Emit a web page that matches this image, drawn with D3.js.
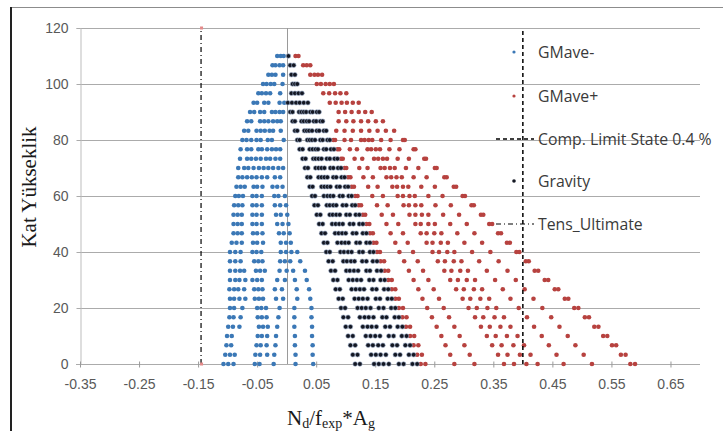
<!DOCTYPE html>
<html>
<head>
<meta charset="utf-8">
<script src="https://cdn.jsdelivr.net/npm/d3@7"></script>
<style>
  body { margin: 0; background: #fff; }
  svg { display: block; }
</style>
</head>
<body>
<script>
const W = 723, H = 431;

// storey heights (m), one row of points per level
const heights = [0, 3.3, 6.7, 10, 13.3, 16.7, 20, 23.3, 26.7, 30, 33.3, 36.7, 40, 43.3, 46.7, 50, 53.3,
  56.7, 60, 63.3, 66.7, 70, 73.3, 76.7, 80, 83.3, 86.7, 90, 93.3, 96.7, 100, 103.3, 106.7, 110];

// GMave-  (row i belongs to heights[i])
const gmMinus = [
  [-0.107,-0.099,-0.090,-0.054,-0.046,-0.022,0.015,0.045],
  [-0.104,-0.096,-0.088,-0.053,-0.045,-0.033,-0.021,0.015,0.044],
  [-0.102,-0.094,-0.051,-0.044,-0.034,-0.019,0.014,0.044],
  [-0.101,-0.093,-0.049,-0.042,-0.033,-0.018,0.014,0.043],
  [-0.099,-0.091,-0.080,-0.047,-0.040,-0.032,-0.016,0.013,0.043],
  [-0.097,-0.090,-0.078,-0.049,-0.042,-0.034,-0.014,0.013,0.042],
  [-0.096,-0.089,-0.075,-0.050,-0.043,-0.035,-0.012,0.013,0.042],
  [-0.096,-0.089,-0.080,-0.070,-0.054,-0.047,-0.040,-0.018,-0.006,0.018,0.040],
  [-0.097,-0.089,-0.082,-0.072,-0.055,-0.048,-0.041,-0.020,-0.008,0.017,0.038],
  [-0.096,-0.087,-0.080,-0.070,-0.058,-0.050,-0.042,-0.016,-0.003,0.014,0.034],
  [-0.096,-0.087,-0.079,-0.072,-0.052,-0.045,-0.037,-0.012,0.000,0.011,0.031],
  [-0.096,-0.087,-0.078,-0.055,-0.048,-0.041,-0.011,-0.003,0.006,0.023],
  [-0.096,-0.087,-0.078,-0.058,-0.051,-0.043,-0.010,-0.001,0.008,0.018],
  [-0.093,-0.085,-0.076,-0.057,-0.050,-0.040,-0.010,-0.001,0.007],
  [-0.090,-0.083,-0.076,-0.057,-0.050,-0.041,-0.013,-0.005,0.005],
  [-0.090,-0.083,-0.076,-0.058,-0.051,-0.042,-0.016,-0.007,0.003],
  [-0.090,-0.083,-0.076,-0.058,-0.051,-0.042,-0.018,-0.010,0.001],
  [-0.089,-0.082,-0.075,-0.058,-0.051,-0.042,-0.020,-0.011,-0.001],
  [-0.087,-0.081,-0.074,-0.058,-0.051,-0.042,-0.021,-0.014,-0.003],
  [-0.085,-0.078,-0.071,-0.056,-0.050,-0.041,-0.024,-0.016,-0.007],
  [-0.082,-0.075,-0.067,-0.059,-0.051,-0.042,-0.033,-0.020,-0.011],
  [-0.082,-0.072,-0.065,-0.056,-0.047,-0.039,-0.031,-0.023,-0.014,-0.006],
  [-0.079,-0.067,-0.060,-0.052,-0.044,-0.035,-0.028,-0.019,-0.011],
  [-0.078,-0.067,-0.060,-0.048,-0.042,-0.033,-0.025,-0.018,-0.011],
  [-0.075,-0.068,-0.060,-0.051,-0.044,-0.032,-0.025,-0.005],
  [-0.072,-0.065,-0.051,-0.044,-0.037,-0.029,-0.023,-0.010],
  [-0.067,-0.060,-0.045,-0.038,-0.031,-0.023,-0.016,-0.010],
  [-0.062,-0.055,-0.045,-0.038,-0.025,-0.019,-0.012,-0.006],
  [-0.056,-0.050,-0.038,-0.031,-0.012,-0.004],
  [-0.048,-0.042,-0.035,-0.028,-0.011],
  [-0.040,-0.034,-0.027,-0.021,-0.007],
  [-0.031,-0.025,-0.019,-0.006],
  [-0.024,-0.019,-0.012,-0.006],
  [-0.016,-0.010,-0.005]
];

// GMave+
const gmPlus = [
  [0.227,0.235,0.284,0.318,0.368,0.385,0.406,0.425,0.469,0.517,0.582,0.590],
  [0.221,0.229,0.277,0.310,0.358,0.374,0.395,0.413,0.457,0.503,0.566,0.574],
  [0.215,0.223,0.269,0.301,0.348,0.364,0.384,0.402,0.444,0.489,0.551,0.558],
  [0.209,0.216,0.262,0.293,0.339,0.354,0.373,0.391,0.432,0.476,0.536,0.543],
  [0.202,0.209,0.254,0.284,0.329,0.344,0.362,0.379,0.419,0.462,0.521,0.528],
  [0.196,0.203,0.246,0.275,0.319,0.333,0.352,0.368,0.407,0.448,0.505,0.512],
  [0.190,0.197,0.238,0.266,0.308,0.322,0.340,0.355,0.393,0.433,0.487,0.494],
  [0.184,0.190,0.230,0.258,0.298,0.311,0.328,0.343,0.379,0.418,0.471,0.477],
  [0.178,0.184,0.223,0.249,0.287,0.300,0.317,0.331,0.366,0.403,0.454,0.460],
  [0.172,0.178,0.215,0.240,0.277,0.290,0.305,0.319,0.353,0.388,0.437,0.443],
  [0.166,0.172,0.207,0.231,0.267,0.279,0.294,0.307,0.339,0.374,0.420,0.426],
  [0.159,0.165,0.199,0.222,0.256,0.268,0.283,0.296,0.326,0.359,0.405,0.410],
  [0.153,0.158,0.191,0.214,0.247,0.258,0.272,0.284,0.314,0.345,0.389,0.394],
  [0.147,0.152,0.184,0.205,0.237,0.247,0.261,0.273,0.301,0.331,0.373,0.378],
  [0.141,0.146,0.176,0.197,0.227,0.237,0.250,0.262,0.289,0.318,0.358,0.363],
  [0.135,0.140,0.169,0.189,0.218,0.227,0.240,0.251,0.277,0.305,0.343,0.348],
  [0.129,0.133,0.161,0.180,0.208,0.218,0.229,0.240,0.265,0.292,0.329,0.333],
  [0.122,0.126,0.153,0.171,0.198,0.207,0.218,0.228,0.252,0.278,0.313,0.317],
  [0.116,0.120,0.145,0.163,0.188,0.197,0.208,0.217,0.240,0.264,0.298,0.302],
  [0.110,0.114,0.138,0.154,0.179,0.187,0.197,0.206,0.228,0.251,0.283,0.287],
  [0.104,0.108,0.130,0.146,0.169,0.177,0.186,0.195,0.215,0.237,0.267,0.271],
  [0.098,0.101,0.123,0.137,0.159,0.166,0.175,0.183,0.202,0.223,0.251,0.254],
  [0.092,0.095,0.115,0.128,0.148,0.155,0.163,0.170,0.188,0.207,0.233,0.236],
  [0.086,0.089,0.107,0.119,0.137,0.143,0.151,0.158,0.174,0.191,0.215,0.218],
  [0.079,0.082,0.098,0.109,0.126,0.132,0.139,0.145,0.160,0.176,0.197,0.200],
  [0.084,0.098,0.112,0.126,0.140,0.154,0.168,0.182],
  [0.088,0.101,0.113,0.126,0.138,0.151,0.163],
  [0.088,0.099,0.110,0.122,0.133,0.144],
  [0.073,0.083,0.093,0.102,0.112,0.122],
  [0.062,0.072,0.082,0.091,0.101],
  [0.051,0.058,0.066,0.073,0.080],
  [0.040,0.047,0.053,0.060],
  [0.028,0.034,0.040],
  [0.015,0.020]
];

// Gravity
const gravity = [
  [0.116,0.124,0.148,0.156,0.164,0.173,0.190,0.198,0.213,0.221],
  [0.112,0.120,0.143,0.151,0.159,0.168,0.184,0.192,0.207,0.215],
  [0.108,0.116,0.138,0.146,0.155,0.163,0.179,0.187,0.201,0.209],
  [0.104,0.112,0.134,0.142,0.150,0.158,0.173,0.181,0.195,0.203],
  [0.100,0.108,0.129,0.137,0.144,0.152,0.167,0.175,0.188,0.196],
  [0.096,0.104,0.124,0.132,0.139,0.147,0.162,0.169,0.183,0.190],
  [0.092,0.099,0.120,0.127,0.134,0.142,0.156,0.164,0.177,0.184],
  [0.088,0.095,0.115,0.122,0.129,0.137,0.151,0.158,0.171,0.178],
  [0.083,0.090,0.110,0.117,0.124,0.131,0.145,0.152,0.165,0.172],
  [0.079,0.086,0.105,0.112,0.119,0.126,0.140,0.147,0.159,0.166],
  [0.075,0.082,0.101,0.107,0.114,0.121,0.135,0.141,0.153,0.160],
  [0.071,0.078,0.096,0.102,0.109,0.115,0.128,0.135,0.146,0.153],
  [0.067,0.073,0.091,0.097,0.104,0.110,0.123,0.129,0.141,0.147],
  [0.063,0.069,0.086,0.093,0.099,0.105,0.118,0.124,0.135,0.141],
  [0.059,0.065,0.082,0.088,0.094,0.100,0.112,0.118,0.129,0.135],
  [0.055,0.061,0.077,0.083,0.089,0.095,0.107,0.113,0.123,0.129],
  [0.051,0.057,0.073,0.078,0.084,0.090,0.101,0.107,0.117,0.123],
  [0.047,0.053,0.068,0.073,0.079,0.084,0.095,0.101,0.111,0.116],
  [0.043,0.048,0.063,0.069,0.074,0.079,0.090,0.095,0.105,0.110],
  [0.039,0.044,0.059,0.064,0.069,0.074,0.085,0.090,0.099,0.104],
  [0.035,0.040,0.054,0.059,0.064,0.069,0.079,0.084,0.093,0.098],
  [0.031,0.036,0.049,0.054,0.059,0.064,0.074,0.079,0.087,0.092],
  [0.027,0.032,0.045,0.049,0.054,0.059,0.068,0.073,0.081,0.086],
  [0.022,0.027,0.039,0.044,0.049,0.053,0.063,0.067,0.075,0.080],
  [0.018,0.022,0.035,0.039,0.043,0.048,0.057,0.061,0.069,0.073],
  [0.014,0.018,0.030,0.034,0.038,0.043,0.051,0.055,0.063,0.067],
  [0.010,0.014,0.025,0.029,0.034,0.038,0.046,0.050,0.057,0.061],
  [0.006,0.010,0.021,0.025,0.029,0.033,0.040,0.044,0.051,0.055],
  [0.002,0.009,0.016,0.022,0.029,0.036],
  [0.008,0.014,0.020,0.026],
  [0.010,0.014,0.018],
  [0.008,0.014],
  [0.006,0.012],
  [0.003]
];

const compLimit = 0.40;     // Comp. Limit State 0.4 %
const tensUltimate = -0.145;
const limitSpan = [0, 120];

const xTicks = [-0.35, -0.25, -0.15, -0.05, 0.05, 0.15, 0.25, 0.35, 0.45, 0.55, 0.65];
const yTicks = [0, 20, 40, 60, 80, 100, 120];

const legendLabels = ["GMave-", "GMave+", "Comp. Limit State 0.4 %", "Gravity", "Tens_Ultimate"];

const blue = "#3b78b6", red = "#b7423f", dark = "#131722";

const svg = d3.select("body")
    .append("svg")
    .attr("width", W)
    .attr("height", H)
    .style("font-family", "Lato, 'Open Sans', sans-serif")

const x = d3.scaleLinear().domain([-0.35, 0.70]).range([80, 700])
const y = d3.scaleLinear().domain([0, 120]).range([364, 28])

// chart frame
svg.append("line").attr("x1", 11).attr("x2", W).attr("y1", 7.5).attr("y2", 7.5)
    .style("stroke", "#8c8c8c").style("stroke-width", 1)
svg.append("line").attr("x1", 11).attr("x2", 11).attr("y1", 7).attr("y2", H)
    .style("stroke", "#222").style("stroke-width", 2)

// horizontal gridlines
svg.append("g").selectAll("line")
    .data(yTicks.filter(d => d > 0))
    .enter().append("line")
    .attr("x1", x(-0.35)).attr("x2", x(0.70))
    .attr("y1", d => Math.round(y(d)) + 0.5).attr("y2", d => Math.round(y(d)) + 0.5)
    .style("stroke", "#ababab")

// y axis (left)
const yAxis = d3.axisLeft(y).tickValues(yTicks).tickSize(4).tickPadding(8)
svg.append("g")
    .attr("transform", `translate(${x(-0.35) + 0.5},0)`)
    .call(yAxis)
    .call(g => g.select(".domain").style("stroke", "#bdbdbd"))
    .call(g => g.selectAll(".tick line").style("stroke", "#ababab"))
    .call(g => g.selectAll("text").style("font-size", "14px").style("fill", "#595959"))

// x axis
const xAxis = d3.axisBottom(x).tickValues(xTicks).tickSize(3).tickPadding(12)
    .tickFormat(d => d.toFixed(2))
svg.append("g")
    .attr("transform", `translate(0,${Math.round(y(0)) + 0.5})`)
    .call(xAxis)
    .call(g => g.select(".domain").attr("d", `M${x(-0.35) - 4},0H${x(0.70)}`).style("stroke", "#ababab"))
    .call(g => g.selectAll(".tick line").attr("y1", -3).style("stroke", "#9a9a9a"))
    .call(g => g.selectAll("text").style("font-size", "14px").style("fill", "#595959"))

// vertical axis crossing at zero
svg.append("line")
    .attr("x1", Math.round(x(0)) + 0.5).attr("x2", Math.round(x(0)) + 0.5)
    .attr("y1", y(120)).attr("y2", y(0))
    .style("stroke", "#9a9a9a")

function flatten(rows) {
  const pts = [];
  rows.forEach((row, i) => row.forEach(v => pts.push({ v: v, h: heights[i] })));
  return pts;
}

// GMave-
svg.append("g").selectAll("circle")
    .data(flatten(gmMinus))
    .enter().append("circle")
    .attr("cx", d => x(d.v)).attr("cy", d => y(d.h)).attr("r", 2.3)
    .style("fill", blue)

// GMave+
svg.append("g").selectAll("circle")
    .data(flatten(gmPlus))
    .enter().append("circle")
    .attr("cx", d => x(d.v)).attr("cy", d => y(d.h)).attr("r", 2.3)
    .style("fill", red)

// Comp. Limit State
svg.append("line")
    .attr("x1", x(compLimit)).attr("x2", x(compLimit))
    .attr("y1", y(limitSpan[0])).attr("y2", y(limitSpan[1]))
    .style("stroke", "#000").style("stroke-width", 1.5).style("stroke-dasharray", "4,3")

// Gravity
svg.append("g").selectAll("circle")
    .data(flatten(gravity))
    .enter().append("circle")
    .attr("cx", d => x(d.v)).attr("cy", d => y(d.h)).attr("r", 2.3)
    .style("fill", dark).style("stroke", "#9fb0cc").style("stroke-width", 0.6)

// Tens_Ultimate
svg.append("line")
    .attr("x1", x(tensUltimate)).attr("x2", x(tensUltimate))
    .attr("y1", y(limitSpan[0])).attr("y2", y(limitSpan[1]))
    .style("stroke", "#000").style("stroke-width", 1.2).style("stroke-dasharray", "5,3,1,3")
svg.append("g").selectAll("rect")
    .data(limitSpan)
    .enter().append("rect")
    .attr("x", x(tensUltimate) - 1).attr("y", d => y(d) - 1.5)
    .attr("width", 3).attr("height", 3)
    .style("fill", "#e48a8a")

// legend
const legendY = [52, 96, 139, 181, 224];
const leg = svg.append("g")
leg.selectAll("text")
    .data(legendLabels)
    .enter().append("text")
    .attr("x", 538).attr("y", (d, i) => legendY[i])
    .attr("dy", "0.35em")
    .text(d => d)
    .style("font-family", "'Open Sans', sans-serif")
    .style("font-size", "15.8px").style("fill", "#3a3a3a")

leg.append("circle").attr("cx", 514).attr("cy", legendY[0]).attr("r", 1.6).style("fill", blue)
leg.append("circle").attr("cx", 514).attr("cy", legendY[1]).attr("r", 1.6).style("fill", red)
leg.append("circle").attr("cx", 514).attr("cy", legendY[3]).attr("r", 1.8).style("fill", dark)
leg.append("line").attr("x1", 496).attr("x2", 534).attr("y1", legendY[2]).attr("y2", legendY[2])
    .style("stroke", "#000").style("stroke-width", 1.3).style("stroke-dasharray", "4,3")
leg.append("line").attr("x1", 496).attr("x2", 534).attr("y1", legendY[4]).attr("y2", legendY[4])
    .style("stroke", "#000").style("stroke-width", 1.2).style("stroke-dasharray", "5,3,1,3")

// axis titles
svg.append("text")
    .attr("transform", "translate(36,187) rotate(-90)")
    .attr("text-anchor", "middle")
    .text("Kat Yükseklik")
    .style("font-family", "'Liberation Serif', 'DejaVu Serif', serif")
    .style("font-size", "21px").style("fill", "#1a1a1a")

const xt = svg.append("text")
    .attr("x", 287).attr("y", 425)
    .style("font-family", "'Liberation Serif', 'DejaVu Serif', serif")
    .style("font-size", "21px").style("fill", "#1a1a1a")
xt.append("tspan").text("N")
xt.append("tspan").attr("dy", 3).style("font-size", "14px").text("d")
xt.append("tspan").attr("dy", -3).text("/f")
xt.append("tspan").attr("dy", 3).style("font-size", "14px").text("exp")
xt.append("tspan").attr("dy", -3).text("*A")
xt.append("tspan").attr("dy", 3).style("font-size", "14px").text("g")
</script>
</body>
</html>
